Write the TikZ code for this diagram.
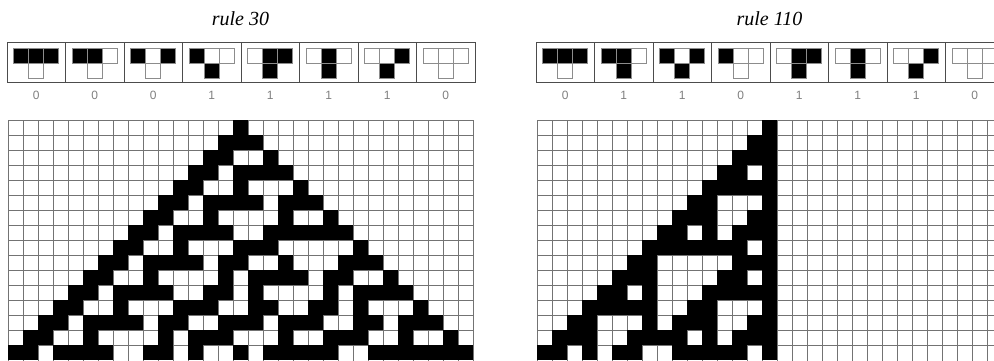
\documentclass[tikz,border=0pt]{standalone}
\usepackage{fontspec}
\setmainfont{Liberation Serif}
\newfontfamily\digitfont{Liberation Sans}
\tikzset{
  gridline/.style={draw=black!55, line width=0.8pt},
  blackcell/.style={fill=black},
  iconbox/.style={draw=black!70, line width=0.9pt},
  iconwhite/.style={draw=black!45, fill=white, line width=0.8pt},
  iconblack/.style={draw=black!45, fill=black, line width=0.8pt},
  digit/.style={font=\digitfont\fontsize{12}{12}\selectfont, text=black!50, inner sep=0pt},
  ruletitle/.style={font=\itshape\fontsize{20}{20}\selectfont, inner sep=0pt, anchor=base}
}
% compute a cellular automaton: #1 name, #2 rule number
\newcommand\CArun[2]{%
  \foreach \CAi in {-1,...,31}{%
    \expandafter\xdef\csname ca#1-0-\CAi\endcsname{\ifnum\CAi=15 1\else 0\fi}}%
  \foreach \CAr in {1,...,15}{%
    \pgfmathtruncatemacro\CApr{\CAr-1}%
    \expandafter\xdef\csname ca#1-\CAr--1\endcsname{0}%
    \expandafter\xdef\csname ca#1-\CAr-31\endcsname{0}%
    \foreach \CAi in {0,...,30}{%
      \pgfmathtruncatemacro\CAil{\CAi-1}%
      \pgfmathtruncatemacro\CAir{\CAi+1}%
      \edef\CAa{\csname ca#1-\CApr-\CAil\endcsname}%
      \edef\CAb{\csname ca#1-\CApr-\CAi\endcsname}%
      \edef\CAc{\csname ca#1-\CApr-\CAir\endcsname}%
      \pgfmathtruncatemacro\CAidx{4*\CAa+2*\CAb+\CAc}%
      \pgfmathtruncatemacro\CAv{mod(floor(#2/(2^\CAidx)),2)}%
      \expandafter\xdef\csname ca#1-\CAr-\CAi\endcsname{\CAv}%
    }%
  }%
}
% draw grid: #1 name, #2 x0, #3 y0
\newcommand\CAdraw[3]{%
  \foreach \CAk in {0,...,31}{%
    \draw[gridline] ({#2+15*\CAk},#3) -- ({#2+15*\CAk},380);}
  \foreach \CAk in {0,...,15}{%
    \draw[gridline] (#2,{#3+15*\CAk}) -- ({#2+465},{#3+15*\CAk});}
  \foreach \CAr in {0,...,15}{%
    \foreach \CAi in {0,...,30}{%
      \ifnum\csname ca#1-\CAr-\CAi\endcsname=1
        \fill[blackcell] ({#2+15*\CAi-0.45},{#3+15*\CAr-0.45}) rectangle ({#2+15*\CAi+15.45},{#3+15*\CAr+15.45});
      \fi
    }%
  }%
}
% icons: #1 rule, #2 x0, #3 name
\newcommand\CAicons[3]{%
  \foreach \CAk in {0,...,7}{%
    \pgfmathtruncatemacro\CAnb{7-\CAk}%
    \pgfmathsetmacro\CAbx{#2+58.5*\CAk}%
    \draw[iconbox] (\CAbx,42) rectangle ({\CAbx+58.5},82);
    \foreach \CAj in {0,1,2}{%
      \pgfmathtruncatemacro\CAbit{mod(floor(\CAnb/(2^(2-\CAj))),2)}%
      \ifnum\CAbit=1
        \filldraw[iconblack] ({\CAbx+6.75+15*\CAj},48) rectangle ({\CAbx+21.75+15*\CAj},63);
      \else
        \filldraw[iconwhite] ({\CAbx+6.75+15*\CAj},48) rectangle ({\CAbx+21.75+15*\CAj},63);
      \fi
    }%
    \pgfmathtruncatemacro\CAout{mod(floor(#1/(2^\CAnb)),2)}%
    \ifnum\CAout=1
      \filldraw[iconblack] ({\CAbx+21.75},63) rectangle ({\CAbx+36.75},78);
    \else
      \filldraw[iconwhite] ({\CAbx+21.75},63) rectangle ({\CAbx+36.75},78);
    \fi
    \node[digit] (#3-d\CAk) at ({\CAbx+29.25},95) {\CAout};
  }%
}
\begin{document}
\begin{tikzpicture}[x=1pt,y=-1pt]
\useasboundingbox (0,0) rectangle (994,360);
\fill[white] (0,0) rectangle (994,360);
\CArun{A}{30}
\CArun{B}{110}
\node[ruletitle] (t30) at (240.5,25) {rule 30};
\node[ruletitle] (t110) at (769.5,25) {rule 110};
\CAicons{30}{7}{ia}
\CAicons{110}{536}{ib}
\CAdraw{A}{8}{120}
\CAdraw{B}{537}{120}
\end{tikzpicture}
\end{document}
